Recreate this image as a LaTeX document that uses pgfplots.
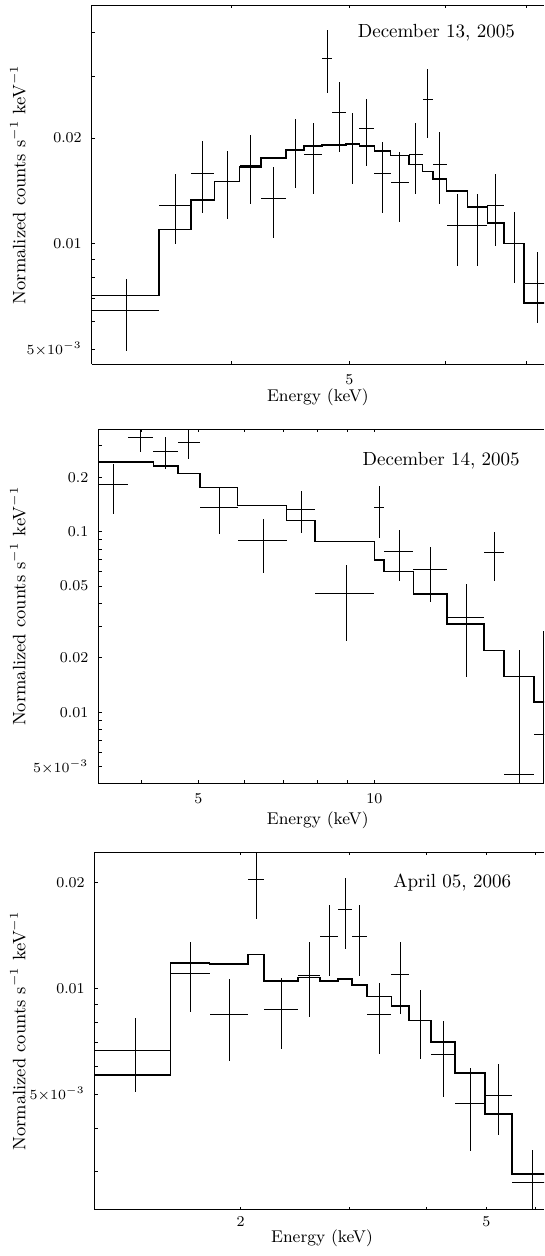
\documentclass[border=0pt]{standalone}
\usepackage{pgfplots}
\pgfplotsset{compat=1.18}
\usepackage{pgfplotstable}

% ---------- December 13, 2005 ----------
\pgfplotstableread{
x ex y eym eyp
3.2735 0.2095 0.00643 0.00148 0.00148
3.5915 0.1085 0.01287 0.0029 0.0029
3.785 0.085 0.01589 0.00367 0.00367
3.9645 0.0945 0.01505 0.0033 0.0033
4.143 0.084 0.01668 0.00373 0.00373
4.330 0.103 0.01348 0.0031 0.0031
4.5105 0.0775 0.01852 0.0041 0.0041
4.6665 0.0785 0.01800 0.0041 0.0041
4.793 0.048 0.03376 0.0069 0.0069
4.9035 0.0625 0.02362 0.00534 0.00534
5.031 0.065 0.01923 0.0044 0.0044
5.170 0.074 0.02126 0.0046 0.0046
5.3265 0.0825 0.01589 0.00364 0.00364
5.5045 0.0955 0.01491 0.00337 0.00337
5.674 0.074 0.01800 0.0041 0.0041
5.8035 0.0555 0.02579 0.00576 0.00576
5.938 0.079 0.01686 0.0039 0.0039
6.1375 0.1205 0.01124 0.0026 0.0026
6.379 0.121 0.01124 0.0026 0.0026
6.605 0.105 0.01282 0.0030 0.0030
6.8415 0.1315 0.01001 0.0023 0.0023
7.1565 0.1835 0.00770 0.00177 0.00177
}\dataA
\pgfplotstableread{
x y
3.064 0.007114
3.483 0.010978
3.700 0.013333
3.870 0.015047
4.059 0.016562
4.227 0.017538
4.433 0.018522
4.588 0.018976
4.745 0.019102
4.841 0.019102
4.966 0.019228
5.096 0.018976
5.244 0.018401
5.409 0.017850
5.600 0.016826
5.748 0.016071
5.859 0.015304
6.017 0.014150
6.258 0.012735
6.500 0.011468
6.710 0.010014
6.973 0.006778
7.34 0.006778
}\modelA

% ---------- December 14, 2005 ----------
\pgfplotstableread{
x ex y eym eyp
3.5795 0.2065 0.1813 0.0556 0.0556
3.9875 0.2015 0.3327 0.056 0.056
4.400 0.211 0.2784 0.0555 0.0555
4.8195 0.2085 0.3095 0.057 0.057
5.4335 0.4055 0.1352 0.0385 0.0385
6.460 0.621 0.0888 0.0294 0.0294
7.499 0.418 0.1330 0.0353 0.0353
8.9585 1.0415 0.0452 0.0205 0.0205
10.20 0.20 0.1358 0.0435 0.0435
11.03 0.63 0.0775 0.0241 0.0241
12.48 0.82 0.0616 0.0206 0.0206
14.35 1.05 0.0334 0.0178 0.0178
16.03 0.63 0.0762 0.0232 0.0232
17.71 1.05 0.00454 0.00354 0.0176
19.435 0.675 0.00756 0.00656 0.0208
}\dataB
\pgfplotstableread{
x y
3.373 0.24293
3.786 0.24293
4.189 0.23085
4.611 0.20940
5.028 0.17516
5.839 0.13927
7.081 0.11504
7.917 0.08805
10.0 0.06973
10.40 0.06009
11.66 0.04505
13.30 0.03087
15.40 0.02197
16.66 0.01578
18.76 0.01138
20.11 0.01138
}\modelB

% ---------- April 05, 2006 ----------
\pgfplotstableread{
x ex y eym eyp
1.350 0.190 0.006658 0.00158 0.00158
1.6605 0.1205 0.011034 0.00248 0.00248
1.917 0.136 0.00841 0.0022 0.0022
2.1175 0.0645 0.020384 0.0046 0.0046
2.328 0.146 0.008713 0.0020 0.0020
2.5825 0.1085 0.010911 0.00265 0.00265
2.783 0.092 0.014027 0.00322 0.00322
2.952 0.077 0.01682 0.00384 0.00384
3.118 0.089 0.014027 0.00322 0.00322
3.3575 0.1505 0.008433 0.00194 0.00194
3.6275 0.1195 0.010983 0.00253 0.00253
3.9075 0.1605 0.008087 0.0018 0.0018
4.2565 0.1885 0.006484 0.00157 0.00157
4.711 0.266 0.004691 0.00124 0.00124
5.2405 0.2635 0.004957 0.00113 0.00113
5.9295 0.4255 0.002802 0.00067 0.00067
}\dataC
\pgfplotstableread{
x y
1.160 0.005663
1.540 0.011827
1.781 0.011728
2.053 0.012497
2.182 0.01049
2.474 0.01074
2.691 0.010511
2.875 0.010629
3.029 0.010239
3.207 0.009489
3.508 0.008904
3.747 0.008087
4.068 0.007033
4.445 0.005728
4.977 0.004393
5.504 0.002959
6.355 0.002959
}\modelC

\begin{document}
\begin{tikzpicture}
\path (0pt,0pt) rectangle (272pt,-628pt);

% Panel 1
\begin{axis}[
  scale only axis, xmode=log, ymode=log,
  axis x line*=box, axis y line*=left,
  tick align=inside,
  axis line style={black, line width=0.5pt},
  tick style={black, line width=0.5pt},
  major tick length=1.6pt, minor tick length=1.6pt,
  ticklabel style={font=\fontsize{7.5}{9}\selectfont},
  yticklabel style={xshift=-1.5pt},
  xticklabel style={yshift=-1.5pt},
  xlabel={Energy (keV)},
  ylabel={Normalized counts s$^{-1}$ keV$^{-1}$},
  at={(45.85pt,-182pt)}, anchor=south west,
  width=226.15pt, height=179.5pt,
  xmin=3.064, xmax=7.2396, ymin=4.54e-3, ymax=0.0479,
  xtick={5}, xticklabels={5}, minor xtick={4,6,7},
  ytick={0.005,0.01,0.02}, yticklabels={$5{\times}10^{-3}$,0.01,0.02},
  minor ytick={0.006,0.007,0.008,0.009,0.03,0.04},
  xlabel style={at={(axis description cs:0.5,-0.092)}, anchor=center, font=\fontsize{8.5}{10}\selectfont},
  ylabel style={at={(axis description cs:-0.1630,0.5)}, anchor=center, font=\fontsize{9}{11}\selectfont},
]
\addplot[const plot, mark=none, black, line width=0.8pt] table[x=x,y=y] {\modelA};
\addplot[draw=none, mark=none,
  error bars/.cd, x dir=both, x explicit, y dir=both, y explicit, error mark=none,
  error bar style={draw=black, line width=0.5pt}]
  table[x=x, y=y, x error=ex, y error minus=eym, y error plus=eyp] {\dataA};
\node[font=\fontsize{9.5}{11}\selectfont] at (rel axis cs:0.7619,0.922) {December 13, 2005};
\end{axis}

% Panel 2
\begin{axis}[
  scale only axis, xmode=log, ymode=log,
  axis x line*=box, axis y line*=left,
  tick align=inside,
  axis line style={black, line width=0.5pt},
  tick style={black, line width=0.5pt},
  major tick length=1.6pt, minor tick length=1.6pt,
  ticklabel style={font=\fontsize{7.5}{9}\selectfont},
  yticklabel style={xshift=-1.5pt},
  xticklabel style={yshift=-1.5pt},
  xlabel={Energy (keV)},
  ylabel={Normalized counts s$^{-1}$ keV$^{-1}$},
  at={(49.15pt,-391.65pt)}, anchor=south west,
  width=222.85pt, height=177.15pt,
  xmin=3.373, xmax=19.51, ymin=4.048e-3, ymax=0.3699,
  xtick={5,10}, xticklabels={5,10}, minor xtick={4,6,7,8,9},
  ytick={0.005,0.01,0.02,0.05,0.1,0.2},
  yticklabels={$5{\times}10^{-3}$,0.01,0.02,0.05,0.1,0.2},
  minor ytick={0.006,0.007,0.008,0.009,0.03,0.04,0.06,0.07,0.08,0.09,0.3},
  xlabel style={at={(axis description cs:0.4923,-0.1036)}, anchor=center, font=\fontsize{8.5}{10}\selectfont},
  ylabel style={at={(axis description cs:-0.1802,0.5)}, anchor=center, font=\fontsize{9}{11}\selectfont},
]
\addplot[const plot, mark=none, black, line width=0.8pt] table[x=x,y=y] {\modelB};
\addplot[draw=none, mark=none,
  error bars/.cd, x dir=both, x explicit, y dir=both, y explicit, error mark=none,
  error bar style={draw=black, line width=0.5pt}]
  table[x=x, y=y, x error=ex, y error minus=eym, y error plus=eyp] {\dataB};
\node[font=\fontsize{9.5}{11}\selectfont] at (rel axis cs:0.7693,0.9105) {December 14, 2005};
\end{axis}

% Panel 3
\begin{axis}[
  scale only axis, xmode=log, ymode=log,
  axis x line*=box, axis y line*=left,
  tick align=inside,
  axis line style={black, line width=0.5pt},
  tick style={black, line width=0.5pt},
  major tick length=1.6pt, minor tick length=1.6pt,
  ticklabel style={font=\fontsize{7.5}{9}\selectfont},
  yticklabel style={xshift=-1.5pt},
  xlabel={Energy (keV)},
  ylabel={Normalized counts s$^{-1}$ keV$^{-1}$},
  at={(47.35pt,-604.85pt)}, anchor=south west,
  width=224.65pt, height=178.85pt,
  xmin=1.160, xmax=6.2006, ymin=2.341e-3, ymax=0.024445,
  xtick={2,5}, xticklabels={2,5}, minor xtick={3,4,6},
  ytick={0.005,0.01,0.02}, yticklabels={$5{\times}10^{-3}$,0.01,0.02},
  minor ytick={0.003,0.004,0.006,0.007,0.008,0.009},
  xlabel style={at={(axis description cs:0.5059,-0.080)}, anchor=center, font=\fontsize{8.5}{10}\selectfont},
  ylabel style={at={(axis description cs:-0.1707,0.5)}, anchor=center, font=\fontsize{9}{11}\selectfont},
]
\addplot[const plot, mark=none, black, line width=0.8pt] table[x=x,y=y] {\modelC};
\addplot[draw=none, mark=none,
  error bars/.cd, x dir=both, x explicit, y dir=both, y explicit, error mark=none,
  error bar style={draw=black, line width=0.5pt}]
  table[x=x, y=y, x error=ex, y error minus=eym, y error plus=eyp] {\dataC};
\node[font=\fontsize{9.5}{11}\selectfont] at (rel axis cs:0.7957,0.9133) {April 05, 2006};
\end{axis}
\end{tikzpicture}
\end{document}
